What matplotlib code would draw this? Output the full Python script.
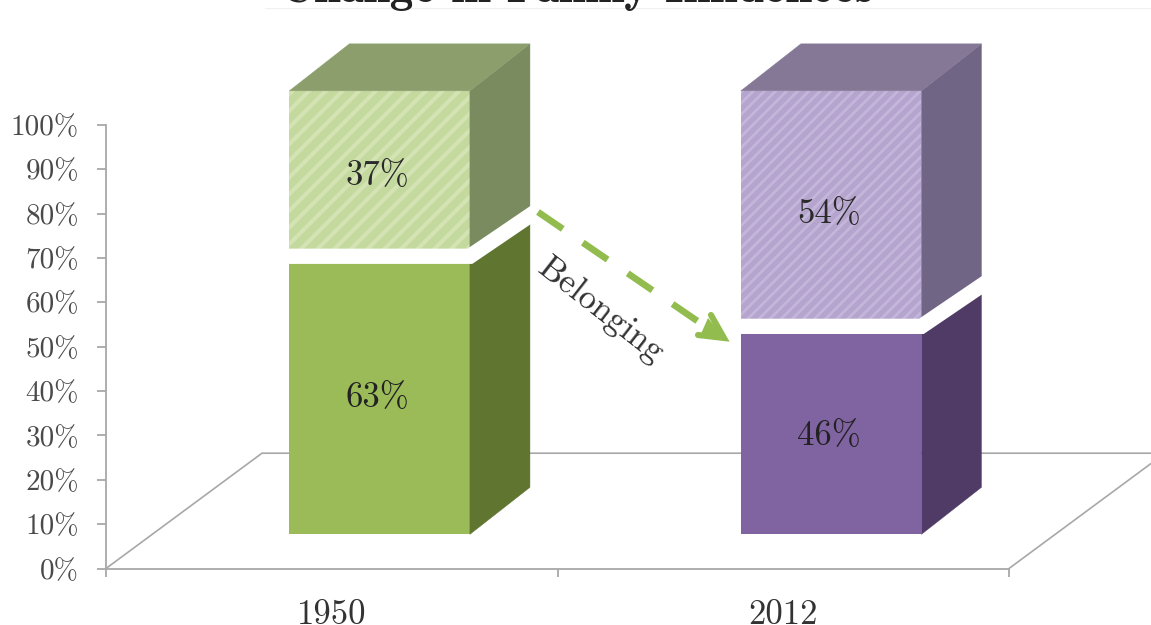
import matplotlib
matplotlib.use("Agg")
import matplotlib.pyplot as plt
from matplotlib.patches import Polygon

years = ["1950", "2012"]
lower_values = [63, 46]
upper_values = [37, 54]
y_ticks = list(range(0, 101, 10))
y_labels = [f"{v}%" for v in y_ticks]
title = "Change in Family Influences"
arrow_label = "Belonging"

W, H = 1151, 625
FONT = "cmr10"
plt.rcParams["axes.formatter.use_mathtext"] = True
fig = plt.figure(figsize=(W / 100, H / 100), dpi=100, facecolor="white")
ax = fig.add_axes([106 / W, (H - 568.5) / H, (1009 - 106) / W, (568.5 - 125) / H])
ax.set_xlim(-0.5, 1.5)
ax.set_ylim(0, 100)
ax.patch.set_alpha(0)

GREY = "#a8a8a8"
for s in ("top", "right"):
    ax.spines[s].set_visible(False)
for s in ("left", "bottom"):
    ax.spines[s].set_color(GREY)
    ax.spines[s].set_linewidth(1.3)

ax.set_yticks(y_ticks, y_labels, family=FONT, fontsize=21, color="#4a4a4a")
ax.tick_params(axis="y", length=6.5, width=1.3, color=GREY, pad=13)
ax.set_xticks([-0.5, 0.5, 1.5], ["", "", ""])
ax.set_xticks([0, 1], years, minor=True, family=FONT, fontsize=25, color="#333333")
ax.tick_params(axis="x", which="major", length=6, width=1.3, color=GREY)
ax.tick_params(axis="x", which="minor", length=0, pad=22)

# projection of the pseudo-3D chart, in axis units
BAR_W = 0.4
BAR_SHIFT = 0.106
BASE = 7.7
DX, DY = 0.133, 10.6
GAP_RISE = 9.2
FLOOR_DX, FLOOR_DY = 0.3455, 26.0

# floor
ax.plot([-0.5, -0.5 + FLOOR_DX, 1.5 + FLOOR_DX + 0.2], [0, FLOOR_DY, FLOOR_DY],
        color="#a8a8a8", lw=1.2, clip_on=False, zorder=1)
ax.plot([1.5, 1.5 + FLOOR_DX], [0, FLOOR_DY], color="#a8a8a8", lw=1.2, clip_on=False, zorder=1)

styles = [
    dict(front="#9bbb59", side="#5f7530", ufront="#c4d99e", ustripe="#d3e3b3",
         utop="#8c9e6c", uside="#7b8b60", hatch="//", hatch_lw=3.0, nudge=-0.3),
    dict(front="#8064a2", side="#4f3b66", ufront="#b5a4cd", ustripe="#c4b6da",
         utop="#857896", uside="#716586", hatch="///", hatch_lw=2.0, nudge=0.9),
]


def box(x0, x1, y0, y1, front, side, top=None, hatch=None, stripe=None, hatch_lw=1.0):
    plt.rcParams["hatch.linewidth"] = hatch_lw
    ax.add_patch(Polygon([(x0, y0), (x1, y0), (x1, y1), (x0, y1)], closed=True,
                         facecolor=front, edgecolor=stripe if hatch else front,
                         hatch=hatch, linewidth=0, clip_on=False, zorder=3))
    ax.add_patch(Polygon([(x1, y0), (x1 + DX, y0 + DY), (x1 + DX, y1 + DY), (x1, y1)], closed=True,
                         facecolor=side, edgecolor=side, linewidth=0.3, clip_on=False, zorder=3))
    if top:
        ax.add_patch(Polygon([(x0, y1), (x1, y1), (x1 + DX, y1 + DY), (x0 + DX, y1 + DY)], closed=True,
                             facecolor=top, edgecolor=top, linewidth=0.3, clip_on=False, zorder=3))


for i, (lo, up, st) in enumerate(zip(lower_values, upper_values, styles)):
    x0 = i + BAR_SHIFT - BAR_W / 2
    x1 = x0 + BAR_W
    split = BASE + lo
    end = split + up
    box(x0, x1, BASE, split, st["front"], st["side"])
    box(x0, x1, split, end, st["ufront"], st["uside"], st["utop"], st["hatch"], st["ustripe"], st["hatch_lw"])
    # white gap between the two segments
    gap = split + st["nudge"]
    ax.plot([x0 - 0.01, x1, x1 + DX + 0.012], [gap, gap, gap + GAP_RISE * (1 + 0.012 / DX)], color="white", lw=11,
            solid_joinstyle="miter", solid_capstyle="butt", clip_on=False, zorder=4)
    ax.text((x0 + x1) / 2 - 0.005, BASE + lo / 2 - 0.8, f"{lo}%", family=FONT, fontsize=25, color="#222222",
            ha="center", va="center", zorder=5)
    ax.text((x0 + x1) / 2 - 0.005, split + up / 2 - 0.8, f"{up}%", family=FONT, fontsize=25, color="#2a2a2a",
            ha="center", va="center", zorder=5)

ARROW = "#92bd4e"
ov = fig.add_axes([0, 0, 1, 1])
ov.set_xlim(0, W)
ov.set_ylim(H, 0)
ov.axis("off")
ov.plot([538, 712], [212, 331], color=ARROW, lw=4.8, dashes=(4.5, 3.65), dash_capstyle="butt")
ov.plot([711, 724, 698], [315, 338, 335], color=ARROW, lw=4.4, solid_joinstyle="miter",
        solid_capstyle="round")
ov.fill([708, 726, 700], [318, 340, 336], color=ARROW, lw=0)
ov.text(601, 311, arrow_label, family=FONT, fontsize=25, color="#333333", rotation=-38,
        rotation_mode="anchor", ha="center", va="center")
ov.text(577, 2, title, family="cmb10", fontsize=34, color="#222222", ha="center", va="baseline")
ov.plot([265, 1151], [8, 8], color="#f0f0f0", lw=0.8)

fig.savefig("out.png", dpi=100)
